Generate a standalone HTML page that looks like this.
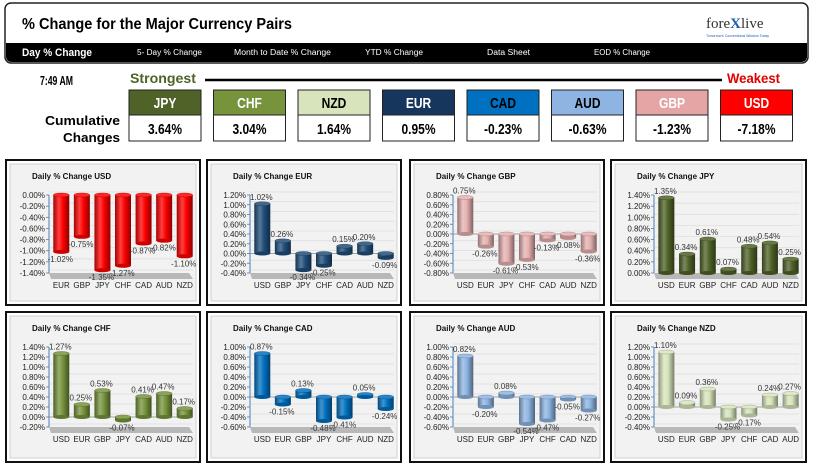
<!DOCTYPE html>
<html><head><meta charset="utf-8"><style>
body{margin:0;background:#fff;width:813px;height:465px;overflow:hidden;font-family:"Liberation Sans",sans-serif}
svg{display:block}
</style></head><body>
<svg id="root" width="813" height="465" viewBox="0 0 813 465" xmlns="http://www.w3.org/2000/svg">
<defs></defs>
<g>
<rect x="5" y="3" width="803" height="60" rx="6" fill="#fff" stroke="#222" stroke-width="1.5"/>
<text x="22" y="29" font-size="16" font-weight="bold" textLength="270" lengthAdjust="spacingAndGlyphs">% Change for the Major Currency Pairs</text>
<text x="706" y="28" font-size="15" fill="#333" font-family="Liberation Serif, serif">fore<tspan fill="#1f5fa8" font-weight="bold">X</tspan>live</text>
<text x="706" y="37" font-size="3.5" fill="#1f5fa8">Tomorrow's Conventional Wisdom Today</text>
<path d="M6,43 H807 V56 Q807,62 801,62 H12 Q6,62 6,56 Z" fill="#000"/>
<text x="22" y="56" font-size="11" font-weight="bold" fill="#fff" textLength="70" lengthAdjust="spacingAndGlyphs">Day % Change</text>
<text x="137" y="55" font-size="8" fill="#fff" textLength="65" lengthAdjust="spacingAndGlyphs">5- Day % Change</text>
<text x="234" y="55" font-size="8" fill="#fff" textLength="97" lengthAdjust="spacingAndGlyphs">Month to Date % Change</text>
<text x="365" y="55" font-size="8" fill="#fff" textLength="58" lengthAdjust="spacingAndGlyphs">YTD % Change</text>
<text x="487" y="55" font-size="8" fill="#fff" textLength="43" lengthAdjust="spacingAndGlyphs">Data Sheet</text>
<text x="594" y="55" font-size="8" fill="#fff" textLength="56" lengthAdjust="spacingAndGlyphs">EOD % Change</text>
</g>
<g font-weight="bold">
<text x="40" y="85" font-size="13" textLength="33" lengthAdjust="spacingAndGlyphs">7:49 AM</text>
<text x="130" y="83" font-size="14" fill="#4f6228" textLength="66" lengthAdjust="spacingAndGlyphs">Strongest</text>
<line x1="205" y1="80" x2="722" y2="80" stroke="#000" stroke-width="2.5"/>
<text x="727" y="83" font-size="14" fill="#e00000" textLength="53" lengthAdjust="spacingAndGlyphs">Weakest</text>
<text x="45" y="125" font-size="13" textLength="75" lengthAdjust="spacingAndGlyphs">Cumulative</text>
<text x="63" y="142" font-size="13" textLength="57" lengthAdjust="spacingAndGlyphs">Changes</text>
<g id="rank"></g>
</g>
<g id="charts"></g>
</svg>
<script>
const NS="http://www.w3.org/2000/svg";
const rankCurrencies=["JPY","CHF","NZD","EUR","CAD","AUD","GBP","USD"];
const rankValues=[3.64,3.04,1.64,0.95,-0.23,-0.63,-1.23,-7.18];

const usdCats=["EUR","GBP","JPY","CHF","CAD","AUD","NZD"];
const usdVals=[-1.02,-0.75,-1.35,-1.27,-0.87,-0.82,-1.10];
const eurCats=["USD","GBP","JPY","CHF","CAD","AUD","NZD"];
const eurVals=[1.02,0.26,-0.34,-0.25,0.15,0.20,-0.09];
const gbpCats=["USD","EUR","JPY","CHF","CAD","AUD","NZD"];
const gbpVals=[0.75,-0.26,-0.61,-0.53,-0.13,-0.08,-0.36];
const jpyCats=["USD","EUR","GBP","CHF","CAD","AUD","NZD"];
const jpyVals=[1.35,0.34,0.61,0.07,0.48,0.54,0.25];
const chfCats=["USD","EUR","GBP","JPY","CAD","AUD","NZD"];
const chfVals=[1.27,0.25,0.53,-0.07,0.41,0.47,0.17];
const cadCats=["USD","EUR","GBP","JPY","CHF","AUD","NZD"];
const cadVals=[0.87,-0.15,0.13,-0.48,-0.41,0.05,-0.24];
const audCats=["USD","EUR","GBP","JPY","CHF","CAD","NZD"];
const audVals=[0.82,-0.20,0.08,-0.54,-0.47,-0.05,-0.27];
const nzdCats=["USD","EUR","GBP","JPY","CHF","CAD","AUD"];
const nzdVals=[1.10,0.09,0.36,-0.25,-0.17,0.24,0.27];

const colors={JPY:["#4f6228","#fff"],CHF:["#77933c","#fff"],NZD:["#d7e4bc","#000"],EUR:["#17365d","#fff"],CAD:["#0070c0","#000"],AUD:["#8db4e2","#000"],GBP:["#e6a5a5","#fff"],USD:["#ff0000","#fff"]};

function el(tag,attrs,parent){const e=document.createElementNS(NS,tag);for(const k in attrs)e.setAttribute(k,attrs[k]);parent.appendChild(e);return e;}

const rank=document.getElementById('rank');
rankCurrencies.forEach((c,i)=>{
  const x=129+i*84.5;
  const g=el('g',{},rank);
  
  
  const r=el('rect',{x:x,y:90,width:72,height:25,fill:colors[c][0],stroke:'#222','stroke-width':1},g);
  
  
  const t=el('text',{x:x+36,y:108,'font-size':15,'text-anchor':'middle',fill:colors[c][1],transform:`translate(${x+36},0) scale(0.8,1) translate(${-(x+36)},0)`},g);
  t.textContent=c;
  
  
  const r2=el('rect',{x:x,y:115,width:72,height:26,fill:'#fff',stroke:'#222','stroke-width':1},g);
  
  
  const v=el('text',{x:x+36,y:134,'font-size':15,'text-anchor':'middle',fill:'#000',transform:`translate(${x+36},0) scale(0.8,1) translate(${-(x+36)},0)`},g);
  v.textContent=rankValues[i].toFixed(2)+'%';
  
  
});

const charts=[
 {name:"USD",cats:usdCats,vals:usdVals,min:-1.4,max:0,color:"#ff0000",p:[5,159,196,147]},
 {name:"EUR",cats:eurCats,vals:eurVals,min:-0.4,max:1.2,color:"#1f4e79",p:[206,159,196,147]},
 {name:"GBP",cats:gbpCats,vals:gbpVals,min:-0.8,max:0.8,color:"#e6b0b0",p:[409,159,196,147]},
 {name:"JPY",cats:jpyCats,vals:jpyVals,min:0,max:1.4,color:"#4f6228",p:[610,159,197,147]},
 {name:"CHF",cats:chfCats,vals:chfVals,min:-0.2,max:1.4,color:"#77933c",p:[5,311,196,152]},
 {name:"CAD",cats:cadCats,vals:cadVals,min:-0.6,max:1.0,color:"#0070c0",p:[206,311,196,152]},
 {name:"AUD",cats:audCats,vals:audVals,min:-0.6,max:1.0,color:"#8db4e2",p:[409,311,196,152]},
 {name:"NZD",cats:nzdCats,vals:nzdVals,min:-0.4,max:1.2,color:"#d7e4bc",p:[610,311,197,152]}
];

function shade(hex,f){const n=parseInt(hex.slice(1),16);let r=n>>16,g=(n>>8)&255,b=n&255;
 const m=v=>Math.max(0,Math.min(255,Math.round(f<0?v*(1+f):v+(255-v)*f)));return `rgb(${m(r)},${m(g)},${m(b)})`;}

const defs=document.querySelector('defs');
const root=document.getElementById('charts');
charts.forEach((c,ci)=>{
  const [px,py,pw,ph]=c.p;
  const gid='g'+ci;
  const lg=el('linearGradient',{id:gid,x1:0,x2:1,y1:0,y2:0},defs);
  el('stop',{offset:0,'stop-color':shade(c.color,-0.35)},lg);
  el('stop',{offset:0.35,'stop-color':shade(c.color,0.25)},lg);
  el('stop',{offset:0.6,'stop-color':c.color},lg);
  el('stop',{offset:1,'stop-color':shade(c.color,-0.45)},lg);
  const g=el('g',{transform:`translate(${px},${py})`,'font-family':'Liberation Sans, sans-serif'},root);
  
  
  const fr=el('rect',{x:1,y:1,width:pw-2,height:ph-2,fill:'#fff',stroke:'#111','stroke-width':2},g);
  
  
  const bg=el('rect',{x:5,y:5,width:pw-10,height:ph-10,fill:'#f2f2f2',stroke:'#d0d0d0','stroke-width':1},g);
  
  
  const t=el('text',{x:27,y:20,'font-size':8,'font-weight':'bold',fill:'#111'},g);
  t.textContent='Daily % Change '+c.name;
  
  
  const x0=44,x1=pw-8,yT=36,yB=ph<150?114:116;
  const ys=v=>yT+(c.max-v)/(c.max-c.min)*(yB-yT);
  const step=(x1-x0)/c.cats.length;
  const xs=i=>x0+step*(i+0.5)+2;
  const fl=el('path',{d:`M${x0},${yB} L${x1-4},${yB} L${x1},${yB+6} L${x0+2},${yB+6} Z`,fill:'#b8b8b8'},g);
  
  
  const nT=Math.round((c.max-c.min)/0.2);
  for(let k=0;k<=nT;k++){
    const v=c.min+k*0.2, y=ys(v);
    const gl=el('line',{x1:x0,x2:x1,y1:y-3,y2:y-3,stroke:'#dcdcdc','stroke-width':0.7},g);
    
    
    const tk=el('line',{x1:x0-3,x2:x0,y1:y,y2:y,stroke:'#4a7ebb','stroke-width':0.8},g);
    
    
    const tl=el('text',{x:x0-4,y:y+3,'font-size':8,'text-anchor':'end',fill:'#222'},g);
    tl.textContent=(Math.abs(v)<1e-9?0:v).toFixed(2)+'%';
    
    
  }
  const ax=el('line',{x1:x0,x2:x0,y1:yT,y2:yB,stroke:'#4a7ebb','stroke-width':1},g);
  
  
  if(c.min<0&&c.max>0){
    const zl=el('line',{x1:x0,x2:x1,y1:ys(0),y2:ys(0),stroke:'#888','stroke-width':0.8},g);
    
    
  }
  const bw=16;
  c.cats.forEach((cat,i)=>{
    const v=c.vals[i], cx=xs(i), y0=ys(0), y1=ys(v);
    const top=Math.min(y0,y1), h=Math.max(1,Math.abs(y1-y0));
    const bar=el('rect',{x:cx-bw/2,y:top,width:bw,height:h,fill:`url(#${gid})`},g);
    
    
    const cap=el('ellipse',{cx:cx,cy:top,rx:bw/2,ry:2,fill:shade(c.color,0.15),stroke:shade(c.color,-0.3),'stroke-width':0.4},g);
    
    
    const bot=el('ellipse',{cx:cx,cy:top+h,rx:bw/2,ry:2,fill:shade(c.color,-0.2)},g);
    
    
    const lbl=el('text',{x:cx-1,y:v>=0?y1-4:y1+10,'font-size':8,'text-anchor':'middle',fill:'#333'},g);
    lbl.textContent=v.toFixed(2)+'%';
    
    
    const cl=el('text',{x:cx,y:yB+15,'font-size':8,'text-anchor':'middle',fill:'#222'},g);
    cl.textContent=cat;
    
    
  });
});
</script>
</body></html>
